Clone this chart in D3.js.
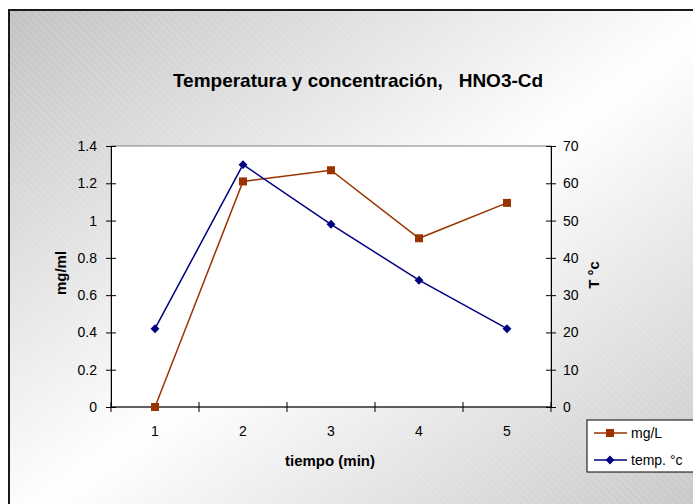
<!DOCTYPE html>
<html>
<head>
<meta charset="utf-8">
<script src="https://cdn.jsdelivr.net/npm/d3@7"></script>
<style>
  html, body { margin: 0; padding: 0; background: #fff; }
  svg { display: block; font-family: "Liberation Sans", Arial, sans-serif; }
</style>
</head>
<body>
<svg width="693" height="504"></svg>
<script>
const categories = [1, 2, 3, 4, 5]
const mgL = [0, 1.21, 1.27, 0.905, 1.095]
const temp = [21, 65, 49, 34, 21]
const leftTicks = [0, 0.2, 0.4, 0.6, 0.8, 1, 1.2, 1.4]
const rightTicks = [0, 10, 20, 30, 40, 50, 60, 70]

const TITLE = "Temperatura y concentración,\u00a0\u00a0\u00a0HNO3-Cd"
const BROWN = "#993300"
const NAVY = "#000080"
const PLOT = { left: 111, right: 551, top: 146, bottom: 407 }

const svg = d3.select("svg")
const defs = svg.append("defs")

// chart background: diagonal grey-white-grey gradient with fine hatching
const grad = defs.append("linearGradient")
  .attr("id", "bg")
  .attr("x1", 0).attr("y1", 0).attr("x2", 1).attr("y2", 1)
grad.append("stop").attr("offset", 0).attr("stop-color", "#c2c2c2")
grad.append("stop").attr("offset", 0.5).attr("stop-color", "#ffffff")
grad.append("stop").attr("offset", 1).attr("stop-color", "#c2c2c2")

const hatch = defs.append("pattern")
  .attr("id", "hatch")
  .attr("width", 5).attr("height", 5)
  .attr("patternUnits", "userSpaceOnUse")
  .attr("patternTransform", "rotate(-45)")
hatch.append("line")
  .attr("x1", 0).attr("y1", 0).attr("x2", 0).attr("y2", 5)
  .attr("stroke", "#ffffff").attr("stroke-width", 1).attr("opacity", 0.35)

svg.append("rect")
  .attr("x", 9).attr("y", 10).attr("width", 720).attr("height", 520)
  .attr("fill", "url(#bg)")
svg.append("rect")
  .attr("x", 9).attr("y", 10).attr("width", 720).attr("height", 520)
  .attr("fill", "url(#hatch)")
svg.append("rect")
  .attr("x", 9).attr("y", 10).attr("width", 720).attr("height", 520)
  .attr("fill", "none").attr("stroke", "#1a1a1a").attr("stroke-width", 2)

svg.append("text")
  .attr("x", 358).attr("y", 87)
  .attr("text-anchor", "middle")
  .attr("font-size", 19).attr("font-weight", "bold")
  .text(TITLE)

// scales
const x = d3.scaleBand().domain(categories).range([PLOT.left, PLOT.right])
const yL = d3.scaleLinear().domain([0, 1.4]).range([PLOT.bottom, PLOT.top])
const yR = d3.scaleLinear().domain([0, 70]).range([PLOT.bottom, PLOT.top])
const cx = d => x(d) + x.bandwidth() / 2

svg.append("rect")
  .attr("x", PLOT.left).attr("y", PLOT.top)
  .attr("width", PLOT.right - PLOT.left).attr("height", PLOT.bottom - PLOT.top)
  .attr("fill", "#fff").attr("stroke", "#808080")

// axes
const fmt = d => String(+d.toFixed(1))

const gL = svg.append("g")
  .attr("transform", `translate(${PLOT.left},0)`)
  .call(d3.axisLeft(yL).tickValues(leftTicks).tickFormat(fmt)
    .tickSize(5).tickSizeOuter(0).tickPadding(9))
gL.selectAll(".tick line").attr("x2", 5).attr("x1", -5)

const gR = svg.append("g")
  .attr("transform", `translate(${PLOT.right},0)`)
  .call(d3.axisRight(yR).tickValues(rightTicks)
    .tickSize(5).tickSizeOuter(0).tickPadding(7))
gR.selectAll(".tick line").attr("x1", -5).attr("x2", 5)

const gX = svg.append("g")
gX.append("line")
  .attr("x1", PLOT.left).attr("x2", PLOT.right)
  .attr("y1", PLOT.bottom).attr("y2", PLOT.bottom)
  .attr("stroke", "#000")
gX.selectAll(".xtick")
  .data(categories.map(c => x(c)).concat([PLOT.right]))
  .join("line")
  .attr("class", "xtick")
  .attr("x1", d => d).attr("x2", d => d)
  .attr("y1", PLOT.bottom - 5).attr("y2", PLOT.bottom + 5)
  .attr("stroke", "#000")
gX.selectAll(".xlabel")
  .data(categories)
  .join("text")
  .attr("class", "xlabel")
  .attr("x", cx).attr("y", 436)
  .attr("text-anchor", "middle")
  .attr("font-size", 14)
  .text(d => d)

svg.selectAll(".tick text").attr("font-size", 14).attr("fill", "#000")
  .attr("font-family", "Liberation Sans, Arial, sans-serif")
svg.selectAll(".domain, .tick line").attr("stroke", "#000")

// axis titles
svg.append("text")
  .attr("x", 330).attr("y", 466)
  .attr("text-anchor", "middle")
  .attr("font-size", 15).attr("font-weight", "bold")
  .text("tiempo (min)")
svg.append("text")
  .attr("transform", "translate(66,273) rotate(-90)")
  .attr("text-anchor", "middle")
  .attr("font-size", 15).attr("font-weight", "bold")
  .text("mg/ml")
svg.append("text")
  .attr("transform", "translate(599,275) rotate(-90)")
  .attr("text-anchor", "middle")
  .attr("font-size", 15).attr("font-weight", "bold")
  .text("T °c")

// series
const lineL = d3.line().x((d, i) => cx(categories[i])).y(d => yL(d))
const lineR = d3.line().x((d, i) => cx(categories[i])).y(d => yR(d))

svg.append("path").datum(mgL)
  .attr("d", lineL).attr("fill", "none")
  .attr("stroke", BROWN).attr("stroke-width", 1.5)
svg.append("path").datum(temp)
  .attr("d", lineR).attr("fill", "none")
  .attr("stroke", NAVY).attr("stroke-width", 1.5)

const square = d3.symbol().type(d3.symbolSquare).size(64)
const diamond = d3.symbol().type(d3.symbolDiamond2).size(50)

svg.selectAll(".pt-mg")
  .data(mgL)
  .join("path")
  .attr("class", "pt-mg")
  .attr("transform", (d, i) => `translate(${cx(categories[i])},${yL(d)})`)
  .attr("d", square)
  .attr("fill", BROWN)
svg.selectAll(".pt-t")
  .data(temp)
  .join("path")
  .attr("class", "pt-t")
  .attr("transform", (d, i) => `translate(${cx(categories[i])},${yR(d)})`)
  .attr("d", diamond)
  .attr("fill", NAVY)

// legend
const legend = svg.append("g").attr("transform", "translate(587,420)")
legend.append("rect")
  .attr("width", 120).attr("height", 52)
  .attr("fill", "#fff").attr("stroke", "#000")
const items = [
  { name: "mg/L", color: BROWN, sym: square },
  { name: "temp. °c", color: NAVY, sym: diamond }
]
const li = legend.selectAll(".li")
  .data(items)
  .join("g")
  .attr("class", "li")
  .attr("transform", (d, i) => `translate(0,${13 + i * 27})`)
li.append("line")
  .attr("x1", 7).attr("x2", 40)
  .attr("stroke", d => d.color).attr("stroke-width", 1.5)
li.append("path")
  .attr("transform", "translate(23,0)")
  .attr("d", d => d.sym())
  .attr("fill", d => d.color)
li.append("text")
  .attr("x", 44).attr("y", 5)
  .attr("font-size", 14)
  .text(d => d.name)
</script>
</body>
</html>
